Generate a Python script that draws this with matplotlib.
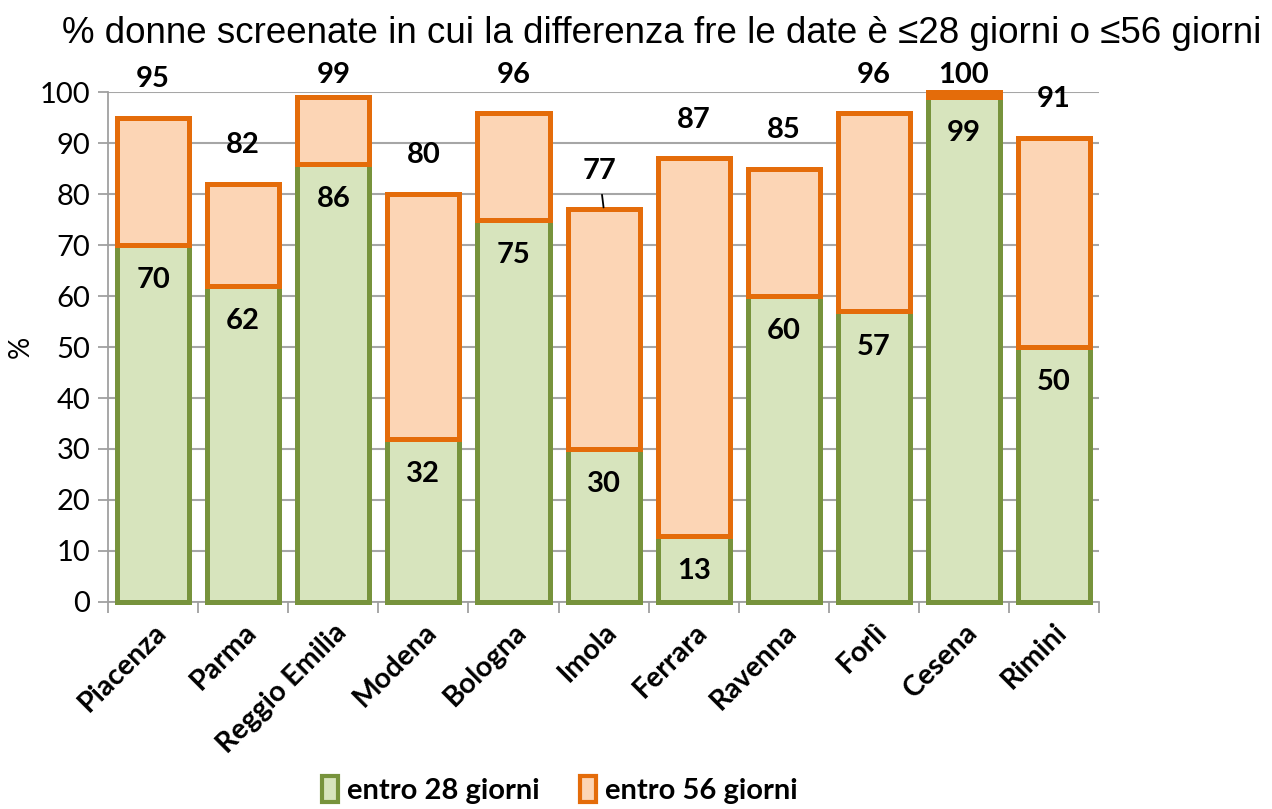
"""Screening intervals by area: share of women within 28 / 56 days."""

import matplotlib
matplotlib.use("Agg")
import matplotlib.pyplot as plt
import matplotlib.patches as mpatches
import numpy as np

areas = ["Piacenza", "Parma", "Reggio Emilia", "Modena", "Bologna", "Imola",
         "Ferrara", "Ravenna", "Forlì", "Cesena", "Rimini"]
within_28 = [70, 62, 86, 32, 75, 30, 13, 60, 57, 99, 50]
within_56 = [95, 82, 99, 80, 96, 77, 87, 85, 96, 100, 91]
y_ticks = list(range(0, 101, 10))

title = "% donne screenate in cui la differenza fre le date è ≤28 giorni o ≤56 giorni"
series_names = ["entro 28 giorni", "entro 56 giorni"]

GREEN_FILL, GREEN_EDGE = "#D7E4BD", "#77933C"
ORANGE_FILL, ORANGE_EDGE = "#FCD5B5", "#E46C0A"
LABEL_FONT = ["Lato", "DejaVu Sans"]

fig = plt.figure(figsize=(12.72, 8.09), dpi=100)
ax = fig.add_axes([0.085, 0.256, 0.779, 0.630])

x = np.arange(len(areas))
extra = np.array(within_56) - np.array(within_28)

ax.bar(x, within_28, width=0.8, color=GREEN_FILL, edgecolor=GREEN_EDGE,
       linewidth=3.6, zorder=3, clip_on=False)
ax.bar(x, extra, width=0.8, bottom=within_28, color=ORANGE_FILL,
       edgecolor=ORANGE_EDGE, linewidth=3.6, zorder=4, clip_on=False)

# ── value labels ─────────────────────────────────────────────────────────────
for i, (g, t) in enumerate(zip(within_28, within_56)):
    ax.annotate(str(g), xy=(i, g), xytext=(0, -16), textcoords="offset points",
                ha="center", va="top", fontsize=21, fontweight="bold",
                family=LABEL_FONT, zorder=6)
    ty = min(t + 7.6, 103.4)
    if areas[i] == "Imola":
        ax.annotate(str(t), xy=(i, t + 0.4), xytext=(i - 0.05, ty),
                    ha="center", va="center", fontsize=21, fontweight="bold",
                    family=LABEL_FONT, zorder=6, annotation_clip=False,
                    arrowprops=dict(arrowstyle="-", color="black", lw=1.3,
                                    shrinkA=6, shrinkB=0, zorder=7))
    else:
        ax.text(i, ty, str(t), ha="center", va="center", fontsize=21,
                fontweight="bold", family=LABEL_FONT, zorder=6)

# ── axes decoration ──────────────────────────────────────────────────────────
ax.set_xlim(-0.5, len(areas) - 0.5)
ax.set_ylim(0, 100)
ax.set_yticks(y_ticks)
ax.set_yticklabels([str(v) for v in y_ticks], fontsize=21, family=LABEL_FONT)
ax.set_xticks(x)
ax.set_xticklabels(areas, rotation=45, ha="right", rotation_mode="anchor",
                   fontsize=20.5, fontweight="bold", family=LABEL_FONT)
ax.set_xticks(np.arange(-0.5, len(areas)), minor=True)
ax.tick_params(axis="x", which="major", length=0, pad=12)
ax.tick_params(axis="x", which="minor", length=8, width=1.3, color="#A0A0A0",
               direction="out")
ax.tick_params(axis="y", length=7, width=1.3, color="#A0A0A0", direction="out",
               pad=6)

ax.grid(axis="y", color="#A6A6A6", linewidth=1.5, zorder=0)
ax.set_axisbelow(True)
for side in ("top", "right"):
    ax.spines[side].set_visible(False)
for side in ("left", "bottom"):
    ax.spines[side].set_color("#A0A0A0")
    ax.spines[side].set_linewidth(1.3)

ax.set_ylabel("%", fontsize=20, family=LABEL_FONT, labelpad=4)

fig.text(0.52, 0.959, title, ha="center", va="center", fontsize=26.5,
         family=["Liberation Sans", "DejaVu Sans"])

handles = [
    mpatches.Patch(facecolor=GREEN_FILL, edgecolor=GREEN_EDGE, linewidth=3,
                   label=series_names[0]),
    mpatches.Patch(facecolor=ORANGE_FILL, edgecolor=ORANGE_EDGE, linewidth=3,
                   label=series_names[1]),
]
fig.legend(handles=handles, loc="center", bbox_to_anchor=(0.44, 0.024),
           ncol=2, frameon=False, handlelength=0.55, handleheight=1.0,
           handletextpad=0.3, columnspacing=1.4,
           prop=dict(family=LABEL_FONT, weight="bold", size=21))

fig.savefig("out.png", dpi=100)
